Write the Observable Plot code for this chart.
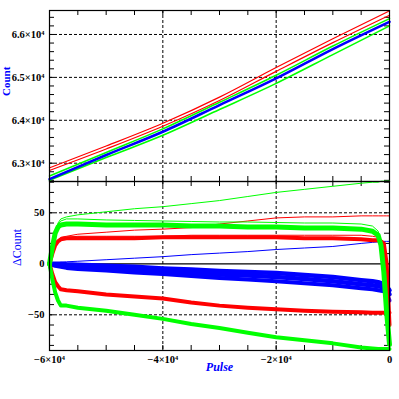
<!DOCTYPE html>
<html><head><meta charset="utf-8">
<script src="https://cdn.jsdelivr.net/npm/d3@7"></script>
<script src="https://cdn.jsdelivr.net/npm/@observablehq/plot@0.6"></script>
<style>
body{margin:0;background:#fff;}
#chart{position:relative;width:399px;height:399px;overflow:hidden;background:#fff;}
#chart svg{display:block;}
</style></head><body><div id="chart"></div>
<script>
// ---------- top panel data (Count vs Pulse) ----------
const pulseTop = [-60000, -50000, -40000, -30000, -20000, -10000, 0];
const countRed1 = [62890, 63400, 63930, 64540, 65230, 65900, 66550];
const countRed2 = [62830, 63330, 63860, 64460, 65140, 65810, 66450];
const countGreen1 = [62700, 63250, 63800, 64420, 65050, 65730, 66370];
const countBlue = [62629, 63190, 63732, 64354, 64977, 65660, 66296];
const countGreen2 = [62600, 63130, 63650, 64250, 64860, 65530, 66200];
const countTicks = [63000, 64000, 65000, 66000];

// ---------- bottom panel data (ΔCount vs Pulse) ----------
const pulseBot = [-60000,-59500,-59000,-58500,-58000,-57000,-55000,-50000,-45000,-40000,-35000,-30000,-25000,-20000,-15000,-10000,-5000,-3000,-2000,-1500,-1000,-500,0];
const dGreenHi   = [0,18,32,40,44,46,48,51,54,56,59,62,66,70,73,76,79,80,80,81,81,81,81];
const dGreenThin = [0,18,32,39,42,44,44,43,42.5,42,41.5,41,41,40.5,40,40,39,37,32,22,0,-40,-80];
const dGreenBand = [0,16,30,36,38,39,39,38,38,38,37,37,36,36,35,35,34,32,28,18,-8,-48,-79];
const dRedThin   = [0,10,18,23,26,27,29,31,33,34,35.5,39,42,45,46,46,47,47,47,47,47,47,47];
const dRedThin2  = [0,10,18,23,25,26,27,27,27,27,28,28,28,28,28,28,28,27,26,24,21,0,-55];
const dRedBand   = [0,10,18,22,24,25,25,25,25,26,26,26,26,26,25,25,24,23,23,22,20,0,-60];
const dBlueThin  = [0,0.5,1,1,1.5,2,2.5,4,5.5,7,9,10.5,12,14,15.5,17,20,21,21.5,21.5,22,22,22];
const dBlueTop   = [0,0,0,0,0,-0.5,-1,-2,-3,-4.5,-5.5,-7,-8,-9,-11,-13,-16,-17,-18,-19,-20,-22,-26];
const dBlueMid   = [0,-0.5,-1,-1.5,-2,-2.5,-3,-4.5,-6,-7.5,-9,-10.5,-11.5,-13,-15,-17,-20,-21,-22,-22.5,-23,-25,-30];
const dBlueLow   = [0,-1,-2,-2.5,-3,-4,-5,-6.5,-8.5,-10,-12,-14,-15.5,-17,-19,-21,-24,-25,-26,-26.5,-27,-29,-36];
const dRedLow    = [0,-10,-18,-22,-25,-26,-27,-30,-32,-34,-38,-41,-43,-44.5,-46,-47,-47.5,-48,-48,-48,-48,-48,-48];
const dGreenLow  = [0,-15,-28,-36,-41,-41,-43,-46,-50,-54,-59,-63,-67.5,-72,-75,-78,-82,-83,-83.5,-83.5,-83.5,-83.5,-83.5];
const dTicks = [-50, 0, 50];
const pulseTicks = [-60000, -40000, -20000, 0];

const RED = "#ff0000", GREEN = "#00ff00", BLUE = "#0000ff";
const FONT = "Liberation Serif";
const rows = (xs, ys) => xs.map((x, i) => ({x, y: ys[i]}));
const fmtSci = d => d === 0 ? "0" : `${String(d / 1e4).replace("-", "\u2212")}\u00d710\u2074`;
const fmtNum = d => d < 0 ? "\u2212" + (-d) : String(d);

const W = 399, ML = 49, MR = 10;
const plotW = W - ML - MR;
const topH = 181, topMT = 10, topInner = topH - topMT;
const botH = 218, botMB = 49, botInner = botH - botMB;
const TL = 5;
const xMinor = d3.range(-60000, 1, 5000);
const yMinorTop = d3.range(62600, 66560, 200);
const yMinorBot = d3.range(-80, 81, 10);
const dash = {stroke: "black", strokeOpacity: 1, strokeDasharray: "3,2", strokeWidth: 1};
const tickFont = {fontSize: 10.5, fontWeight: "bold", fill: "black"};

function tickMarks(yMinor, inner) {
  return [
    Plot.tickX(xMinor, {x: d => d, insetTop: inner - TL, stroke: "black"}),
    Plot.tickX(xMinor, {x: d => d, insetBottom: inner - TL, stroke: "black"}),
    Plot.tickY(yMinor, {y: d => d, insetRight: plotW - TL, stroke: "black"}),
    Plot.tickY(yMinor, {y: d => d, insetLeft: plotW - TL, stroke: "black"})
  ];
}

const topPlot = Plot.plot({
  width: W, height: topH,
  marginTop: topMT, marginBottom: 0, marginLeft: ML, marginRight: MR,
  x: {domain: [-60000, 0], axis: null, label: null},
  y: {domain: [62573, 66559], label: null},
  style: {fontFamily: FONT, background: "white", overflow: "visible"},
  marks: [
    Plot.gridX(pulseTicks.slice(1, 3), dash),
    Plot.gridY(countTicks, dash),
    ...tickMarks(yMinorTop, topInner),
    Plot.line(rows(pulseTop, countGreen2), {x: "x", y: "y", stroke: GREEN, strokeWidth: 1.6, curve: "monotone-x"}),
    Plot.line(rows(pulseTop, countBlue), {x: "x", y: "y", stroke: BLUE, strokeWidth: 2.6, curve: "monotone-x"}),
    Plot.line(rows(pulseTop, countGreen1), {x: "x", y: "y", stroke: GREEN, strokeWidth: 1.6, curve: "monotone-x"}),
    Plot.line(rows(pulseTop, countRed2), {x: "x", y: "y", stroke: RED, strokeWidth: 1.2, curve: "monotone-x"}),
    Plot.line(rows(pulseTop, countRed1), {x: "x", y: "y", stroke: RED, strokeWidth: 1.2, curve: "monotone-x"}),
    Plot.frame({stroke: "black", strokeWidth: 1.2}),
    Plot.axisY(countTicks, {anchor: "left", tickSize: 0, tickPadding: 5, tickFormat: fmtSci, ...tickFont, label: null}),
    Plot.text(["Count"], {text: d => d, frameAnchor: "left", dx: -43, rotate: -90, fill: BLUE, fontSize: 11, fontWeight: "bold"})
  ]
});

const lineB = (ys, stroke, sw) => Plot.line(rows(pulseBot, ys), {x: "x", y: "y", stroke, strokeWidth: sw});

const botPlot = Plot.plot({
  width: W, height: botH,
  marginTop: 0, marginBottom: botMB, marginLeft: ML, marginRight: MR,
  x: {domain: [-60000, 0], label: null},
  y: {domain: [-85, 80.7], label: null},
  style: {fontFamily: FONT, background: "white", overflow: "visible"},
  marks: [
    Plot.gridX(pulseTicks.slice(1, 3), dash),
    Plot.gridY([-50, 50], dash),
    Plot.ruleY([0], {stroke: "black", strokeWidth: 1.2}),
    ...tickMarks(yMinorBot, botInner),
    lineB(dBlueThin, BLUE, 1),
    lineB(dBlueTop, BLUE, 4.5),
    lineB(dBlueMid, BLUE, 4.5),
    lineB(dBlueLow, BLUE, 4),
    lineB(dRedLow, RED, 4),
    lineB(dGreenLow, GREEN, 4),
    lineB(dRedThin2, RED, 1),
    lineB(dRedBand, RED, 4),
    lineB(dRedThin, RED, 1),
    lineB(dGreenBand, GREEN, 5),
    lineB(dGreenThin, GREEN, 1),
    lineB(dGreenHi, GREEN, 1),
    Plot.frame({stroke: "black", strokeWidth: 1.2}),
    Plot.axisY(dTicks, {anchor: "left", tickSize: 0, tickPadding: 5, tickFormat: fmtNum, ...tickFont, label: null}),
    Plot.axisX(pulseTicks, {anchor: "bottom", tickSize: 0, tickPadding: 5, tickFormat: fmtSci, ...tickFont, label: null}),
    Plot.text(["\u0394Count"], {text: d => d, frameAnchor: "left", dx: -32, rotate: -90, fill: BLUE, fontSize: 12}),
    Plot.text(["Pulse"], {text: d => d, frameAnchor: "bottom", dy: 20, fill: BLUE, fontSize: 12, fontWeight: "bold", fontStyle: "italic"})
  ]
});

const chart = document.getElementById("chart");
chart.appendChild(topPlot);
chart.appendChild(botPlot);
</script>
</body></html>
